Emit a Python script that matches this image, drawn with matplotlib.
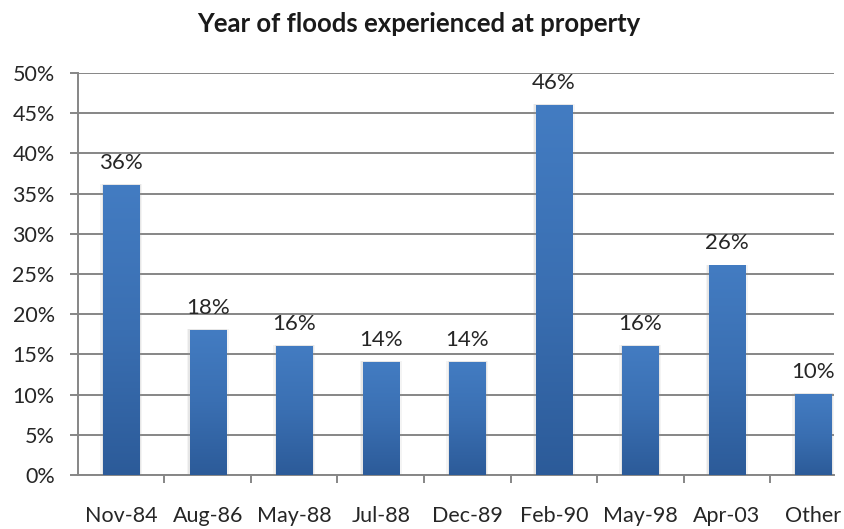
import numpy as np
import matplotlib
matplotlib.use("Agg")
import matplotlib.pyplot as plt
from matplotlib.colors import LinearSegmentedColormap
from matplotlib.ticker import FixedLocator, PercentFormatter

categories = ["Nov-84", "Aug-86", "May-88", "Jul-88", "Dec-89",
              "Feb-90", "May-98", "Apr-03", "Other"]
values = [36, 18, 16, 14, 14, 46, 16, 26, 10]
yticks = [0, 5, 10, 15, 20, 25, 30, 35, 40, 45, 50]
title = "Year of floods experienced at property"

plt.rcParams["font.family"] = ["Lato", "DejaVu Sans"]

fig = plt.figure(figsize=(8.45, 5.29), dpi=100)
ax = fig.add_axes([0.0923, 0.102, 0.8947, 0.760])

x = np.arange(len(categories))
bar_w = 0.42
grid_c = "#868686"
text_c = "#262626"

# horizontal gridlines
for t in yticks:
    ax.axhline(t, color=grid_c, lw=1.4, zorder=1)

# bars with vertical gradient and a soft shadow
cmap = LinearSegmentedColormap.from_list("barblue", ["#2c5b99", "#3a6fb2", "#437cc2"])
grad = np.linspace(0, 1, 256).reshape(-1, 1)
for xi, v in zip(x, values):
    for k, a in ((0.06, 0.10), (0.035, 0.15)):
        ax.add_patch(plt.Rectangle((xi - bar_w / 2 - k / 2, 0), bar_w + k, v + 0.15,
                                   color="#9a9a9a", alpha=a, lw=0, zorder=2))
    ax.imshow(grad, cmap=cmap, aspect="auto", origin="lower",
              extent=(xi - bar_w / 2, xi + bar_w / 2, 0, v), zorder=3)
    ax.annotate(f"{v}%", (xi, v), xytext=(0, 9), textcoords="offset points",
                ha="center", va="bottom", fontsize=16, color=text_c, zorder=4)

ax.set_xlim(-0.5, 8.24)
ax.set_ylim(0, 50)

for s in ("top", "right"):
    ax.spines[s].set_visible(False)
for s in ("left", "bottom"):
    ax.spines[s].set_color(grid_c)
    ax.spines[s].set_linewidth(1.4)

ax.yaxis.set_major_locator(FixedLocator(yticks))
ax.yaxis.set_major_formatter(PercentFormatter(decimals=0))
ax.tick_params(axis="y", direction="out", length=5.8, width=1.4, color=grid_c,
               pad=11, labelsize=15.5, labelcolor=text_c)

ax.set_xticks(x)
ax.set_xticklabels(categories)
ax.set_xticks(np.arange(len(categories) - 1) + 0.5, minor=True)
ax.tick_params(axis="x", which="major", length=0, pad=22, labelsize=15.5, labelcolor=text_c)
ax.tick_params(axis="x", which="minor", direction="out", length=5.8, width=1.4, color=grid_c)

fig.suptitle(title, x=0.496, y=0.978, fontsize=18.5, fontweight="bold", color="#1a1a1a")

fig.savefig("out.png", dpi=100)
